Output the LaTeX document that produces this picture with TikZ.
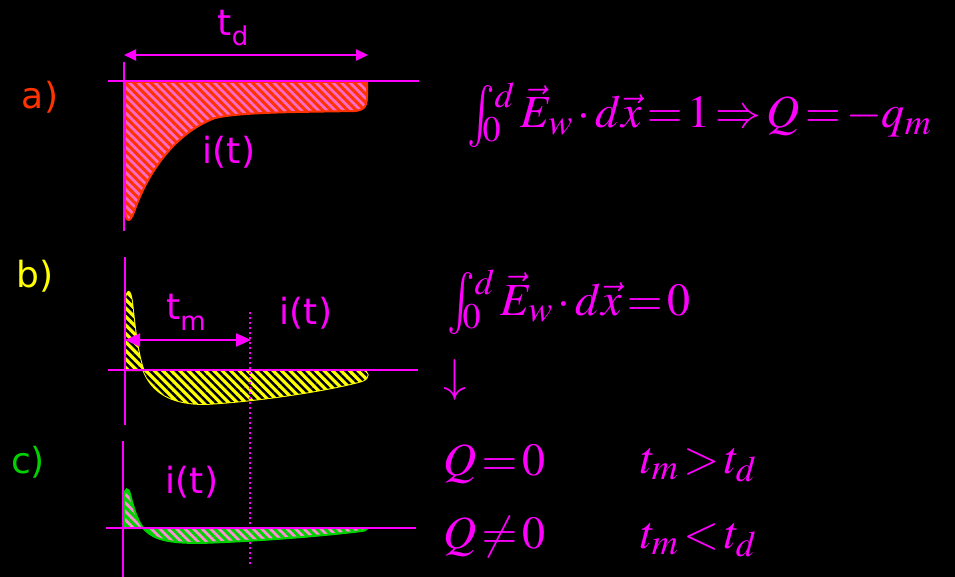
\documentclass[tikz,border=0pt]{standalone}
\usepackage{mathptmx}
\usepackage[no-math]{fontspec}
\setsansfont{DejaVu Sans}
\usetikzlibrary{patterns.meta,arrows.meta}
\DeclareMathSizes{46}{46}{36}{28}
\definecolor{mag}{RGB}{255,0,255}
\definecolor{ared}{RGB}{255,51,0}
\definecolor{apink}{RGB}{255,105,200}
\definecolor{byel}{RGB}{255,255,0}
\definecolor{cgrn}{RGB}{0,210,0}
\definecolor{cpink}{RGB}{255,140,215}
\newcommand{\tightmath}{\thickmuskip=2mu plus 1mu\medmuskip=2mu plus 1mu}
\newcommand{\bigint}{\mathop{\vphantom{\int}\smash{\raisebox{-0.08em}{\scalebox{1}[1.35]{$\int$}}}}\nolimits}
\tikzset{
  axis/.style={draw=mag,line width=2pt},
  dim/.style={draw=mag,line width=2pt,{Triangle[length=12pt,width=11pt]}-{Triangle[length=12pt,width=11pt]}},
  dimb/.style={draw=mag,line width=2pt,{Triangle[length=15pt,width=13pt]}-{Triangle[length=15pt,width=13pt]}},
  vdots/.style={draw=mag,line width=2pt,dash pattern=on 2pt off 3pt},
  lbl/.style={inner sep=0pt,font=\sffamily\fontsize{36}{40}\selectfont},
  eq/.style={inner sep=0pt,text=mag,font=\fontsize{46}{50}\selectfont\tightmath,anchor=base west},
}
\begin{document}
\begin{tikzpicture}[x=1pt,y=-1pt]
\useasboundingbox[fill=black] (0,0) rectangle (955,577);
% ---------- panel a
\draw[draw=ared,line width=2pt,fill=apink,
      postaction={pattern={Lines[angle=-45,distance=6pt,line width=3pt]},pattern color=ared}]
  (125,82) -- (125,210) .. controls (126,223) and (130,223) .. (134,212)
  .. controls (145,180) and (170,135) .. (215,118)
  .. controls (240,112) and (300,112) .. (355,111)
  .. controls (366,110) and (367,104) .. (367,95) -- (367,82) -- cycle;
\draw[axis] (124,62) -- (124,231);
\draw[axis] (108,81) -- (419,81);
\coordinate (a1) at (124,55);
\coordinate (a2) at (368,55);
\draw[dim] (a1) -- (a2);
\node[lbl,text=mag] (td) at (233,28) {t\raisebox{-0.3em}{\fontsize{26}{26}\selectfont d}};
\node[lbl,text=mag] (ia) at (229,152) {i(t)};
\node[lbl,text=ared] (la) at (40,97) {a)};
% ---------- panel b
\draw[draw=byel,line width=2pt,fill=byel,
      postaction={pattern={Lines[angle=-45,distance=6pt,line width=2.5pt]},pattern color=black}]
  (126,370) -- (126,300) .. controls (127,290) and (130,288) .. (132,302)
  .. controls (135,330) and (138,358) .. (145,374)
  .. controls (155,395) and (175,404) .. (205,404)
  .. controls (260,401) and (330,390) .. (362,381)
  .. controls (370,378) and (369,371) .. (362,371) -- cycle;
\draw[axis] (125,257) -- (125,425);
\draw[axis] (108,370) -- (418,370);
\draw[vdots] (250,312) -- (250,566);
\coordinate (b1) at (125,340);
\coordinate (b2) at (251,340);
\draw[dimb] (b1) -- (b2);
\node[lbl,text=mag] (tm) at (186,312) {t\raisebox{-0.3em}{\fontsize{26}{26}\selectfont m}};
\node[lbl,text=mag] (ib) at (306,313) {i(t)};
\node[lbl,text=byel] (lb) at (35,276) {b)};
% ---------- panel c
\draw[draw=cgrn,line width=2pt,fill=cpink,
      postaction={pattern={Lines[angle=-45,distance=6pt,line width=3pt]},pattern color=cgrn}]
  (124,528) -- (124,496) .. controls (125,488) and (128,487) .. (130,494)
  .. controls (134,510) and (138,523) .. (145,530)
  .. controls (155,540) and (170,543) .. (200,543)
  .. controls (260,541) and (320,536) .. (362,531)
  .. controls (368,530) and (368,528) .. (362,528) -- cycle;
\draw[axis] (123,441) -- (123,577);
\draw[axis] (106,528) -- (416,528);
\node[lbl,text=mag] (ic) at (192,482) {i(t)};
\node[lbl,text=cgrn] (lc) at (28,462) {c)};
% ---------- equations
\node[eq] (e1) at (467,128) {$\bigint_{\!\!\!0}^{d} \vec{E}_w\cdot d\vec{x}=1\Rightarrow Q=-q_m$};
\node[eq] (e2) at (447,315) {$\bigint_{\!\!\!0}^{d} \vec{E}_w\cdot d\vec{x}=0$};
\node[eq,anchor=center] (dn) at (455,380) {$\downarrow$};
\node[eq] (q0) at (443,475) {$Q=0$};
\node[eq] (c0) at (640,473) {$t_m>t_d$};
\node[eq] (q1) at (443,548) {$Q\neq0$};
\node[eq] (c1) at (640,548) {$t_m<t_d$};
\end{tikzpicture}
\end{document}
